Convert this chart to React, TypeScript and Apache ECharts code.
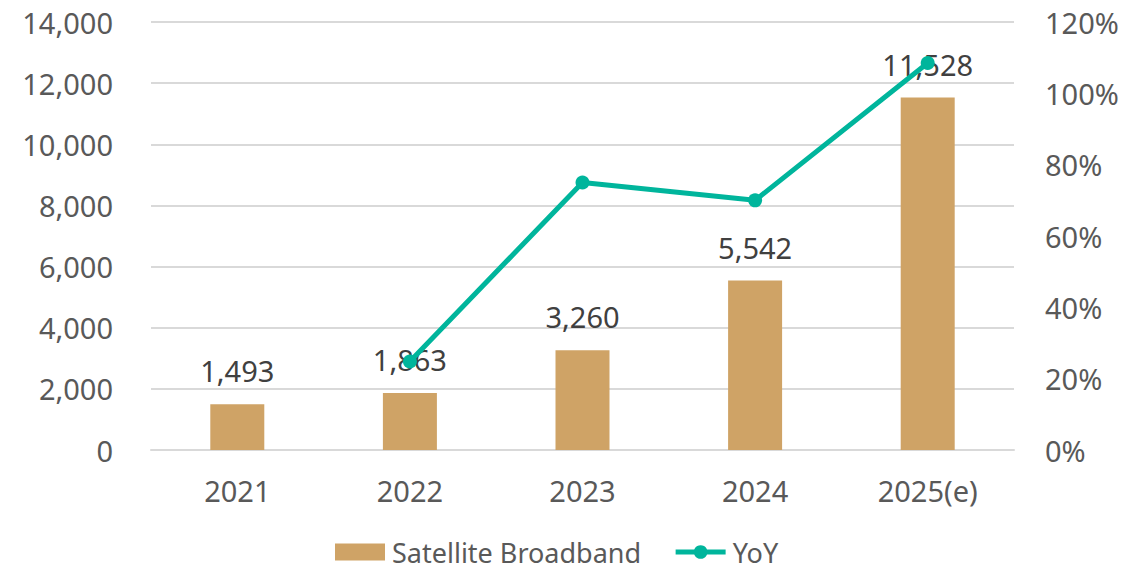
import React, { useEffect, useRef } from "react";
import * as echarts from "echarts";

const categories = ["2021", "2022", "2023", "2024", "2025(e)"];
const broadband = [1493, 1863, 3260, 5542, 11528];
const yoy = [null, 24.8, 75.0, 70.0, 108.5];

const FONT = "'Noto Sans', 'Open Sans', sans-serif";
const FS = 29;

export default function App() {
  const ref = useRef<HTMLDivElement>(null);
  useEffect(() => {
    const chart = echarts.init(ref.current!, null, { renderer: "svg" });
    chart.setOption({
      animation: false,
      textStyle: { fontFamily: FONT },
      grid: { left: 151, right: 129, top: 22, bottom: 120 },
      legend: {
        top: 538,
        left: 335,
        padding: 0,
        itemGap: 32,
        itemWidth: 50,
        itemHeight: 17,
        textStyle: {
          fontSize: 27,
          lineHeight: 28,
          color: "#595959",
          fontFamily: FONT,
          padding: [0, 0, 0, 2],
        },
        data: [
          { name: "Satellite Broadband", icon: "rect" },
          { name: "YoY", lineStyle: { width: 5 } },
        ],
      },
      xAxis: {
        type: "category",
        data: categories,
        axisLine: { show: true, lineStyle: { color: "#D9D9D9", width: 2 } },
        axisTick: { show: false },
        axisLabel: { fontSize: FS, color: "#595959", margin: 26, fontFamily: FONT },
      },
      yAxis: [
        {
          type: "value",
          min: 0,
          max: 14000,
          interval: 2000,
          axisLine: { show: false },
          axisTick: { show: false },
          splitLine: { lineStyle: { color: "#D9D9D9", width: 2 } },
          axisLabel: {
            fontSize: FS,
            color: "#595959",
            margin: 38,
            fontFamily: FONT,
            formatter: (v: number) => v.toLocaleString("en-US"),
          },
        },
        {
          type: "value",
          min: 0,
          max: 120,
          interval: 20,
          axisLine: { show: false },
          axisTick: { show: false },
          splitLine: { show: false },
          axisLabel: {
            fontSize: FS,
            color: "#595959",
            margin: 31,
            fontFamily: FONT,
            formatter: (v: number) => v + "%",
          },
        },
      ],
      series: [
        {
          name: "Satellite Broadband",
          type: "bar",
          data: broadband,
          barWidth: 54,
          itemStyle: { color: "#CFA366" },
          label: {
            show: true,
            position: "top",
            distance: 19,
            fontSize: FS,
            color: "#404040",
            fontFamily: FONT,
            formatter: (p: any) => p.value.toLocaleString("en-US"),
          },
        },
        {
          name: "YoY",
          type: "line",
          yAxisIndex: 1,
          data: yoy,
          symbol: "circle",
          symbolSize: 14,
          lineStyle: { color: "#00B59C", width: 5 },
          itemStyle: { color: "#00B59C" },
          z: 5,
        },
      ],
    });
    return () => chart.dispose();
  }, []);
  return (
    <div
      ref={ref}
      style={{ position: "absolute", left: 0, top: 0, width: 1143, height: 570 }}
    />
  );
}
